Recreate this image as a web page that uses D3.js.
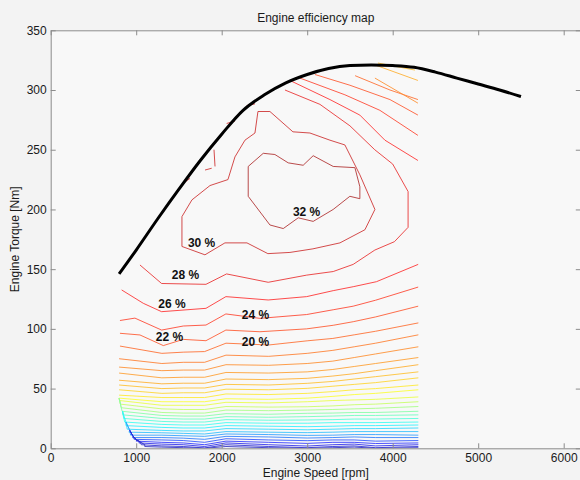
<!DOCTYPE html>
<html><head><meta charset="utf-8">
<script src="https://cdn.jsdelivr.net/npm/d3@7"></script>
<style>
body{margin:0;background:#f3f3f3}
svg{display:block}
text{font-family:"Liberation Sans",Arial,Helvetica,sans-serif}
</style></head>
<body><svg id="chart" width="580" height="480"></svg>
<script>
// ---------------- data ----------------
const xTicks = [0,1000,2000,3000,4000,5000,6000];
const yTicks = [0,50,100,150,200,250,300,350];

// full-load (max torque) curve
const wotSpeed  = [800,1000,1250,1500,1750,2000,2250,2500,2750,3000,3250,3500,3750,4000,4250,4500,4750,5000,5250,5500];
const wotTorque = [146,166,192,217,241,263,283,296,306,313,318,320.5,321,320.5,319,315,310,305,300,294.5];

// low-speed boundary of the map where the low-load lines bunch together
const edgeSpeed  = [800,840,880,925,966,1005,1044,1100];
const edgeTorque = [42,31,22,15,9.7,7,5.5,3];

// part-load contour lines (efficiency %), left end point + torque at common speeds
const stackSpeeds = [1300,1550,1800,2050,2550,3000,3300,3550,3800,4300];
const stackLevels = [20,19,18,17,16,15,14,13,12,11,10,9,8,7,6,5,4,3,2,1,0,-1,-2,-3,-4,-5];
const stackStart = [
 [810,85.6],[800,75],[800,68],[800,63],[800,57],[800,53],[800,49],[800,44.5],[800,42],[805,40],[815,37],[825,34],[835,31],
 [845,28],[855,25],[865,22],[880,19],[895,16],[915,13.5],[935,11],[955,9],[975,7.5],[1000,6],[1030,4.5],[1060,3],[1100,1.5]];
const stackTorque = [
 [79.5,80.5,81,88,86.5,90,92,95,98,105],
 [71,72,72,78,77,79.5,82,85,88,95],
 [65,65.5,65.5,70,69.5,71,73,76,79,85],
 [59,59.5,59.5,63.5,63,64,66,68.5,71,76],
 [54,54.5,54.5,58,57.5,58.6,60.5,62.5,65,70],
 [50,50.5,50.5,53.5,53,54.4,56,58,60,64],
 [46,46.5,46.5,49.5,49,50.2,52,53.5,55,59],
 [42.5,42.5,42.5,45.5,45,46,47.5,49,50,53],
 [39,39,39,41.5,41,42,43.5,45,46,49],
 [36,36,36,38.5,38,39,40,40.5,41,43],
 [33,32.5,32.5,35,34.5,34.8,35.5,36.5,37,39],
 [30,29.5,29.5,32,31.5,32,32.5,33,33.5,35],
 [27.5,27,27,29,28.5,29.3,29.5,30,30,31],
 [25,24.5,24.5,26.5,26,26.5,27,27.5,27.5,28],
 [22.5,22,22,24,23.5,23.7,24,24.5,24.5,25],
 [20,19.5,19.5,21.5,21,21,21.5,21.5,21.5,22],
 [17.5,17,17,19,18.5,18.1,18.5,19,19,19.5],
 [15,14.5,14.5,16.5,16,15.5,16,16.5,16.5,17],
 [13,12.5,12,14,13.5,13.1,13.5,14,14,14],
 [11,10.5,10,12,11.5,10.8,11,11.5,11.5,11],
 [9,8.5,7.5,10,9.5,8.6,9,9.5,9,9],
 [7,6.5,5,8,7,6.4,7,7,6,6.5],
 [5,4.5,3,6,5,4.1,5,5,4,4.5],
 [3.5,3,1.5,4.5,3,1.9,3,3.5,2,3],
 [2,1.5,0.3,3,1.5,0.5,1.5,2,0.5,1.5],
 [1,0.5,0,1.5,0.5,0,0.5,1,0,0.5]];

// higher-load contour lines with individual break points
const line22 = [[810,96.3],[1044,94.9],[1317,86],[1551,91.2],[1816,90.1],[2049,99],[2447,97.6],[2993,100],[3304,103],[3538,106],[3800,110],[4298,119]];
const line24 = [[810,107],[985,109],[1297,99],[1551,102.4],[1816,103.2],[2049,112.5],[2447,108.8],[2993,112],[3304,116],[3538,119],[3800,124],[4298,135]];
const line26 = [[830,132.6],[1083,121.4],[1297,114.4],[1816,117.2],[2049,127],[2544,124.2],[2993,127],[3304,132],[3538,135.3],[3810,139.5],[4298,154]];
const line28 = [[1044,153.5],[1297,138],[1816,137.3],[2057,146],[2544,139],[2993,145],[3304,148],[3538,154],[3791,166],[4020,173],[4180,185],
 [4180,215],[4000,238],[3790,250],[3500,270],[3149,288],[2740,300]];

// closed contours around the best-efficiency island
const loop30 = [[1535,194],[1535,169],[1804,162],[2038,172],[2295,172],[2540,163],[2798,164],[3067,167],[3383,172],[3675,183],[3792,200],
 [3616,229],[3441,254],[3266,258],[3032,264],[2833,265],[2564,282],[2424,282],[2389,264],[2272,258],[2155,244],[2073,225],[1863,220],[1652,208],[1535,194]];
const loop32 = [[2310,236],[2486,247],[2622,246],[2778,239],[2953,237],[3070,245],[3304,236],[3558,235],[3616,219],[3616,209],[3499,211],
 [3304,200],[3070,190],[2895,193],[2720,184],[2564,187],[2310,211],[2310,236]];

// short pieces cut by the full-load boundary
const fragLevels = [30,30,30,29,29];
const fragLines = [
 [[1551,222],[1629,226]],
 [[1805,233],[1883,234.5]],
 [[1910,250],[1922,236]],
 [[2058,272],[2155,274]],
 [[2292,287],[2389,288.4]]];

// high-torque, high-speed lines near the full-load curve
const upperLevels = [26,24,22,20,18,16,15];
const upperLines = [
 [[2798,308],[3266,292],[3616,279],[3909,258],[4295,241]],
 [[2915,310],[3441,296],[3850,283],[4295,262]],
 [[3090,313],[3500,304],[3968,292],[4295,279]],
 [[3560,312],[3968,300],[4295,292]],
 [[3792,310],[4295,289]],
 [[3792,321],[4295,308]],
 [[3827,322.6],[4260,316.7]]];

// contour labels
const labelLevels = [32,30,28,26,24,22,20];
const labelSpeed  = [2993,1765,1576,1418,2395,1389,2395];
const labelTorque = [198,172,145,121,111.6,93.2,89.3];

// ---------------- drawing ----------------
const svg = d3.select('#chart');
const L=50.7, R=580.8, T=30.3, B=448.3;
const x = d3.scaleLinear().domain([0,6200]).range([L,R]);
const y = d3.scaleLinear().domain([0,350]).range([B,T]);

function jet(t){
  const c = v => Math.max(0, Math.min(1, v));
  const r = c(1.5-Math.abs(4*t-3)), g = c(1.5-Math.abs(4*t-2)), b = c(1.5-Math.abs(4*t-1));
  return d3.rgb(r*255, g*255, b*255);
}
const levelToT = d3.scaleLinear()
  .domain([-5,-3,-1,0,2,5,8,11,12,13,15,20,24,28,32])
  .range([0.05,0.1,0.17,0.22,0.3,0.39,0.48,0.6,0.62,0.65,0.7,0.8,0.85,0.9,0.97]).clamp(true);
const color = lv => d3.interpolateRgb(jet(levelToT(lv)), '#f8f8f8')(0.18);

svg.append('rect').attr('x',L).attr('y',T).attr('width',R-L).attr('height',B-T).attr('fill','#f8f8f8');
svg.append('defs').append('clipPath').attr('id','clip').append('rect')
  .attr('x',L).attr('y',T).attr('width',R-L).attr('height',B-T);
const g = svg.append('g').attr('clip-path','url(#clip)');

const line = d3.line().x(d=>x(d[0])).y(d=>y(d[1]));
const drawLine = (pts, lv) => g.append('path').attr('d',line(pts)).attr('fill','none')
  .attr('stroke',color(lv)).attr('stroke-width',1).attr('stroke-opacity',0.85);

stackLevels.forEach((lv,i)=>{
  const st = stackStart[i];
  // low-load lines run a short way down the bunched boundary before turning right
  const lead = lv <= 11 ? edgeSpeed.map((s,k)=>[s,edgeTorque[k]])
                 .filter(p => p[1] > st[1] && p[1] <= st[1] + 12) : [];
  drawLine(lead.concat([st], stackSpeeds.map((s,j)=>[s,stackTorque[i][j]])), lv);
});
drawLine(line22,22); drawLine(line24,24); drawLine(line26,26); drawLine(line28,28);
fragLevels.forEach((lv,i)=> drawLine(fragLines[i], lv));
upperLevels.forEach((lv,i)=> drawLine(upperLines[i], lv));
drawLine(loop30, 30);
drawLine(loop32, 32);

// full load curve
g.append('path')
  .attr('d', d3.line().curve(d3.curveMonotoneX).x((d,i)=>x(wotSpeed[i])).y(d=>y(d))(wotTorque))
  .attr('fill','none').attr('stroke','#000').attr('stroke-width',3);

// labels
labelLevels.forEach((lv,i)=>{
  g.append('text').attr('x',x(labelSpeed[i])).attr('y',y(labelTorque[i])).attr('dy','0.35em')
   .attr('text-anchor','middle').attr('font-size',12).attr('font-weight','bold').attr('fill','#111')
   .text(lv+' %');
});

// axes
const axisColor = '#8c8c8c';
const fmt = d3.format('d');
function styleAxis(sel, showText){
  sel.selectAll('path,line').attr('stroke',axisColor);
  sel.selectAll('text').attr('font-size',12).attr('fill','#1a1a1a')
     .attr('font-family','"Liberation Sans",Arial,sans-serif');
  if(!showText) sel.selectAll('text').remove();
}
svg.append('g').attr('transform',`translate(0,${B})`)
  .call(d3.axisBottom(x).tickValues(xTicks).tickFormat(fmt).tickSizeInner(-5).tickSizeOuter(0).tickPadding(5))
  .call(s=>styleAxis(s,true));
svg.append('g').attr('transform',`translate(0,${T})`)
  .call(d3.axisTop(x).tickValues(xTicks).tickSizeInner(-5).tickSizeOuter(0))
  .call(s=>styleAxis(s,false));
svg.append('g').attr('transform',`translate(${L},0)`)
  .call(d3.axisLeft(y).tickValues(yTicks).tickFormat(fmt).tickSizeInner(-5).tickSizeOuter(0).tickPadding(4))
  .call(s=>styleAxis(s,true));
svg.append('g').attr('transform',`translate(${R},0)`)
  .call(d3.axisRight(y).tickValues(yTicks).tickSizeInner(-5).tickSizeOuter(0))
  .call(s=>styleAxis(s,false));

svg.append('text').attr('x',(L+R)/2).attr('y',18).attr('dy','0.35em').attr('text-anchor','middle')
  .attr('font-size',12).attr('fill','#1a1a1a').text('Engine efficiency map');
svg.append('text').attr('x',(L+R)/2).attr('y',473).attr('dy','0.35em').attr('text-anchor','middle')
  .attr('font-size',12).attr('fill','#1a1a1a').text('Engine Speed [rpm]');
svg.append('text').attr('transform',`translate(15,${(T+B)/2}) rotate(-90)`).attr('dy','0.35em')
  .attr('text-anchor','middle').attr('font-size',12).attr('fill','#1a1a1a').text('Engine Torque [Nm]');
</script></body></html>
